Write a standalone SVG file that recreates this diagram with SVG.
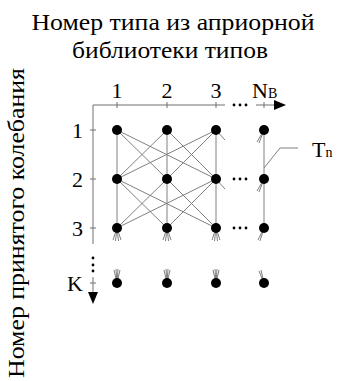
<svg xmlns="http://www.w3.org/2000/svg" width="338" height="381" viewBox="0 0 338 381">
<style>
text{font-family:"Liberation Serif","Times New Roman",serif;fill:#000}
.t{font-size:24px}
.l{font-size:22px}
.s{font-size:14px}
.e{stroke:#808080;stroke-width:1;fill:none}
.ax{stroke:#707070;stroke-width:1;fill:none}
.n{fill:#000}
</style>
<rect width="338" height="381" fill="#fff"/>
<text class="t" x="173" y="30" text-anchor="middle" textLength="283" lengthAdjust="spacingAndGlyphs">Номер типа из априорной</text>
<text class="t" x="170" y="58" text-anchor="middle" textLength="196" lengthAdjust="spacingAndGlyphs">библиотеки типов</text>
<text class="t" transform="translate(24,223) rotate(-90)" text-anchor="middle" textLength="310" lengthAdjust="spacingAndGlyphs">Номер принятого колебания</text>
<g id="axes">
<path class="ax" d="M93,105H225M256,105H274M93,105V244M93,277V293"/>
<path class="ax" d="M117,102V108M167,102V108M216,102V108M264,102V108M90,130H96M90,179H96M90,228H96M90,283H96"/>
<polygon points="274,100 286,105 274,110" fill="#000"/>
<polygon points="88,292 98,292 93,304" fill="#000"/>
<g fill="#000"><circle cx="234" cy="105" r="1.4"/><circle cx="240" cy="105" r="1.4"/><circle cx="246" cy="105" r="1.4"/>
<circle cx="93" cy="258" r="1.4"/><circle cx="93" cy="265" r="1.4"/><circle cx="93" cy="271" r="1.4"/>
<circle cx="234" cy="179" r="1.4"/><circle cx="240" cy="179" r="1.4"/><circle cx="246" cy="179" r="1.4"/>
<circle cx="234" cy="228" r="1.4"/><circle cx="240" cy="228" r="1.4"/><circle cx="246" cy="228" r="1.4"/></g>
</g>
<g id="labels">
<text class="l" x="117" y="98" text-anchor="middle">1</text>
<text class="l" x="167" y="98" text-anchor="middle">2</text>
<text class="l" x="216" y="98" text-anchor="middle">3</text>
<text class="l" x="252" y="98">N<tspan class="s">В</tspan></text>
<text class="l" x="83" y="138" text-anchor="end">1</text>
<text class="l" x="83" y="187" text-anchor="end">2</text>
<text class="l" x="83" y="236" text-anchor="end">3</text>
<text class="l" x="83" y="291" text-anchor="end">K</text>
<text class="l" x="312" y="157">T<tspan class="s">n</tspan></text>
</g>
<g id="connectors">
<path class="e" d="M117,130L117,179M117,130L167,179M117,130L216,179M167,130L117,179M167,130L167,179M167,130L216,179M216,130L117,179M216,130L167,179M216,130L216,179"/>
<path class="e" d="M117,179L117,228M117,179L167,228M117,179L216,228M167,179L117,228M167,179L167,228M167,179L216,228M216,179L117,228M216,179L167,228M216,179L216,228"/>
<path class="e" d="M264,130V228M216,130L225,140M216,179L225,189M264,130L257,142M264,130L259,143M264,179L257,191M264,179L259,192"/>
<path class="e" d="M117,228l-4,12M117,228l-1.5,13M117,228l1.5,13M117,228l4,12M167,228l-4,12M167,228l-1.5,13M167,228l1.5,13M167,228l4,12M216,228l-4,12M216,228l-1.5,13M216,228l1.5,13M216,228l4,12M264,228l-6,12M264,228l-4,13"/>
<path class="e" d="M117,283l-3,-13M117,283l-1,-14M117,283l1,-14M117,283l3,-13M167,283l-3,-13M167,283l-1,-14M167,283l1,-14M167,283l3,-13M216,283l-3,-13M216,283l-1,-14M216,283l1,-14M216,283l3,-13M264,283l-5,-12M264,283l-3,-13"/>
<path class="e" d="M264,168L280,148H298"/>
</g>
<g id="node-1-1"><circle class="n" cx="117" cy="130" r="5"/></g>
<g id="node-1-2"><circle class="n" cx="167" cy="130" r="5"/></g>
<g id="node-1-3"><circle class="n" cx="216" cy="130" r="5"/></g>
<g id="node-1-N"><circle class="n" cx="264" cy="130" r="5"/></g>
<g id="node-2-1"><circle class="n" cx="117" cy="179" r="5"/></g>
<g id="node-2-2"><circle class="n" cx="167" cy="179" r="5"/></g>
<g id="node-2-3"><circle class="n" cx="216" cy="179" r="5"/></g>
<g id="node-2-N"><circle class="n" cx="264" cy="179" r="5"/></g>
<g id="node-3-1"><circle class="n" cx="117" cy="228" r="5"/></g>
<g id="node-3-2"><circle class="n" cx="167" cy="228" r="5"/></g>
<g id="node-3-3"><circle class="n" cx="216" cy="228" r="5"/></g>
<g id="node-3-N"><circle class="n" cx="264" cy="228" r="5"/></g>
<g id="node-K-1"><circle class="n" cx="117" cy="283" r="5"/></g>
<g id="node-K-2"><circle class="n" cx="167" cy="283" r="5"/></g>
<g id="node-K-3"><circle class="n" cx="216" cy="283" r="5"/></g>
<g id="node-K-N"><circle class="n" cx="264" cy="283" r="5"/></g>
</svg>
